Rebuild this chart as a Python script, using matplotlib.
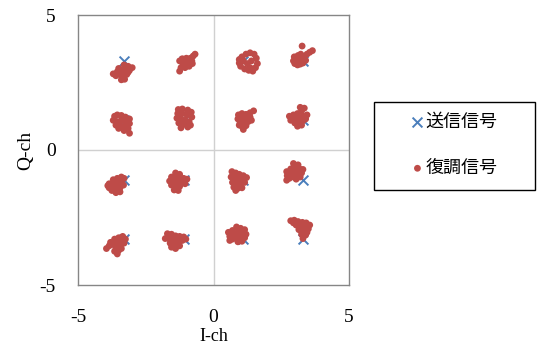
import matplotlib
matplotlib.use('Agg')
import matplotlib.pyplot as plt
from matplotlib.patches import Rectangle

plt.rcParams['font.family'] = ['Noto Sans CJK JP', 'DejaVu Sans']
plt.rcParams['axes.unicode_minus'] = False

# 16QAM reference points (transmitted)
levels = [-3.3, -1.1, 1.1, 3.3]
tx_i = [i for q in levels for i in levels]
tx_q = [q for q in levels for i in levels]

# demodulated symbols, one list per constellation point (I, Q)
rx_points = [
    # Q = 3.3 row
    [(-3.30, 3.15), (-3.15, 3.10), (-3.00, 3.05), (-3.10, 2.95), (-3.25, 3.00), (-3.40, 2.95),
     (-3.55, 2.90), (-3.70, 2.82), (-3.60, 2.75), (-3.45, 2.80), (-3.30, 2.85), (-3.20, 2.80),
     (-3.35, 2.70), (-3.40, 2.60), (-3.28, 2.62), (-3.50, 3.02), (-3.15, 2.88)],
    [(-1.25, 3.30), (-1.15, 3.25), (-1.05, 3.30), (-0.95, 3.35), (-0.85, 3.40), (-0.75, 3.48),
     (-0.68, 3.55), (-0.80, 3.30), (-0.95, 3.20), (-1.10, 3.15), (-1.20, 3.05), (-1.25, 2.92),
     (-1.05, 3.05), (-0.90, 3.10), (-1.00, 3.40), (-1.15, 3.38), (-0.78, 3.20)],
    [(0.95, 3.35), (1.05, 3.45), (1.20, 3.55), (1.35, 3.60), (1.50, 3.55), (1.58, 3.40),
     (1.62, 3.20), (1.55, 3.05), (1.45, 2.92), (1.30, 2.95), (1.15, 3.00), (1.00, 3.10),
     (0.95, 3.22), (1.25, 3.20), (1.40, 3.30), (1.10, 3.30), (1.35, 3.05)],
    [(3.27, 3.85), (2.95, 3.30), (3.00, 3.20), (3.10, 3.15), (3.20, 3.18), (3.30, 3.22),
     (3.05, 3.40), (3.15, 3.35), (3.25, 3.40), (3.35, 3.45), (3.45, 3.55), (3.55, 3.62),
     (3.65, 3.68), (3.40, 3.32), (3.12, 3.50), (2.98, 3.45), (3.22, 3.55)],
    # Q = 1.1 row
    [(-3.65, 1.25), (-3.55, 1.30), (-3.40, 1.28), (-3.25, 1.22), (-3.10, 1.15), (-3.70, 1.10),
     (-3.55, 1.05), (-3.40, 1.10), (-3.25, 1.05), (-3.10, 0.98), (-3.60, 0.92), (-3.45, 0.90),
     (-3.30, 0.88), (-3.15, 0.80), (-3.30, 0.72), (-3.10, 0.62), (-3.50, 0.80)],
    [(-1.30, 1.50), (-1.15, 1.52), (-0.95, 1.48), (-0.82, 1.40), (-1.32, 1.35), (-1.15, 1.35),
     (-0.98, 1.30), (-0.80, 1.22), (-1.35, 1.18), (-1.20, 1.15), (-1.05, 1.10), (-0.90, 1.05),
     (-1.28, 1.00), (-1.10, 0.95), (-0.95, 0.85), (-1.20, 0.82), (-0.85, 0.92)],
    [(0.92, 1.30), (1.05, 1.35), (1.20, 1.32), (1.35, 1.38), (1.48, 1.45), (0.90, 1.15),
     (1.05, 1.18), (1.20, 1.15), (1.35, 1.22), (0.98, 1.00), (1.12, 1.02), (1.28, 1.05),
     (1.05, 0.88), (1.20, 0.90), (1.10, 0.76), (1.40, 1.10), (0.95, 0.92)],
    [(2.80, 1.25), (2.95, 1.30), (3.10, 1.35), (3.25, 1.45), (3.35, 1.55), (3.20, 1.58),
     (2.85, 1.10), (3.00, 1.15), (3.15, 1.20), (3.30, 1.25), (3.45, 1.30), (3.00, 1.00),
     (3.15, 1.02), (3.30, 1.08), (3.40, 1.15), (3.10, 0.88), (3.25, 0.92)],
    # Q = -1.1 row
    [(-3.85, -1.25), (-3.70, -1.10), (-3.55, -1.05), (-3.40, -1.00), (-3.30, -1.05), (-3.85, -1.40),
     (-3.70, -1.30), (-3.55, -1.25), (-3.40, -1.20), (-3.32, -1.30), (-3.75, -1.50), (-3.60, -1.45),
     (-3.45, -1.40), (-3.60, -1.58), (-3.45, -1.55), (-3.90, -1.32), (-3.50, -1.15)],
    [(-1.40, -0.85), (-1.25, -0.90), (-1.55, -1.00), (-1.40, -1.00), (-1.25, -1.02), (-1.10, -1.05),
     (-0.98, -1.08), (-1.62, -1.15), (-1.48, -1.15), (-1.32, -1.15), (-1.18, -1.20), (-1.05, -1.25),
     (-1.55, -1.30), (-1.40, -1.32), (-1.25, -1.35), (-1.45, -1.48), (-1.30, -1.50)],
    [(0.68, -0.80), (0.82, -0.85), (0.95, -0.90), (1.10, -0.95), (1.22, -1.02), (0.65, -1.00),
     (0.80, -1.05), (0.95, -1.10), (1.10, -1.12), (0.70, -1.20), (0.85, -1.25), (1.00, -1.28),
     (0.75, -1.38), (0.90, -1.42), (1.05, -1.40), (0.82, -1.50), (1.15, -1.20)],
    [(2.70, -0.80), (2.85, -0.70), (3.00, -0.62), (3.12, -0.55), (2.95, -0.50), (2.72, -0.95),
     (2.88, -0.88), (3.02, -0.78), (3.18, -0.70), (2.80, -1.05), (2.95, -1.00), (3.10, -0.92),
     (3.25, -0.85), (3.05, -1.08), (3.20, -1.00), (2.70, -1.12), (3.30, -0.72)],
    # Q = -3.3 row
    [(-3.35, -3.20), (-3.25, -3.30), (-3.50, -3.25), (-3.65, -3.30), (-3.80, -3.42), (-3.95, -3.65),
     (-3.85, -3.55), (-3.70, -3.50), (-3.55, -3.45), (-3.40, -3.40), (-3.30, -3.45), (-3.45, -3.55),
     (-3.60, -3.62), (-3.50, -3.72), (-3.40, -3.65), (-3.55, -3.85), (-3.65, -3.75)],
    [(-1.70, -3.10), (-1.55, -3.12), (-1.40, -3.18), (-1.25, -3.20), (-1.10, -3.22), (-1.78, -3.28),
     (-1.62, -3.30), (-1.48, -3.32), (-1.32, -3.30), (-1.15, -3.35), (-1.02, -3.30), (-1.60, -3.45),
     (-1.45, -3.48), (-1.30, -3.45), (-1.55, -3.60), (-1.40, -3.65), (-1.25, -3.55)],
    [(0.85, -2.85), (1.00, -2.90), (1.15, -2.95), (0.70, -2.98), (0.55, -3.05), (0.60, -3.20),
     (0.75, -3.10), (0.90, -3.05), (1.05, -3.08), (1.20, -3.12), (0.70, -3.30), (0.85, -3.25),
     (1.00, -3.22), (1.15, -3.25), (0.90, -3.40), (1.05, -3.38), (0.60, -3.35)],
    [(2.85, -2.62), (2.98, -2.60), (3.12, -2.65), (3.28, -2.68), (3.42, -2.70), (3.55, -2.78),
     (3.05, -2.78), (3.20, -2.82), (3.35, -2.85), (3.50, -2.92), (3.15, -2.95), (3.30, -3.00),
     (3.45, -3.05), (3.25, -3.12), (3.40, -3.15), (3.30, -3.28), (2.95, -2.70)],
]
rx_i = [p[0] for cluster in rx_points for p in cluster]
rx_q = [p[1] for cluster in rx_points for p in cluster]

blue = '#4a7ebb'
red = '#be4b48'
serif = ['Liberation Serif', 'DejaVu Serif']

fig = plt.figure(figsize=(5.41, 3.49), dpi=100)
ax = fig.add_axes([78 / 541, 1 - 285 / 349, 271 / 541, 270 / 349])

ax.axhline(0, color='#d0d0d0', lw=1, zorder=0)
ax.axvline(0, color='#d0d0d0', lw=1, zorder=0)

ax.scatter(tx_i, tx_q, marker='x', s=50, color=blue, linewidths=1.4, zorder=2, label='送信信号')
ax.scatter(rx_i, rx_q, marker='o', s=24, color=red, edgecolors='none', zorder=3, label='復調信号')

ax.set_xlim(-5, 5)
ax.set_ylim(-5, 5)
ax.set_xticks([-5, 0, 5])
ax.set_yticks([-5, 0, 5])
ax.tick_params(length=0, labelsize=14)
ax.tick_params(axis='x', pad=17)
ax.tick_params(axis='y', pad=16)
for lbl in ax.get_xticklabels() + ax.get_yticklabels():
    lbl.set_family(serif)
for sp in ax.spines.values():
    sp.set_color('#868686')
    sp.set_linewidth(1)

ax.set_xlabel('I-ch', family=serif, fontsize=13, labelpad=2)
ax.set_ylabel('Q-ch', family=serif, fontsize=14, labelpad=4)

# legend box drawn separately so its padding can be set freely
fig.add_artist(Rectangle((374 / 541, 1 - 190 / 349), 161 / 541, 88 / 349,
                         transform=fig.transFigure, fill=False, edgecolor='black', lw=1))
ax.legend(loc='upper left', bbox_to_anchor=(403 / 541, 1 - 104 / 349),
          bbox_transform=fig.transFigure, frameon=False, fontsize=13,
          handlelength=0.6, handletextpad=0.15, borderpad=0, labelspacing=1.55,
          markerscale=1.0)

fig.savefig('out.png', dpi=100)
